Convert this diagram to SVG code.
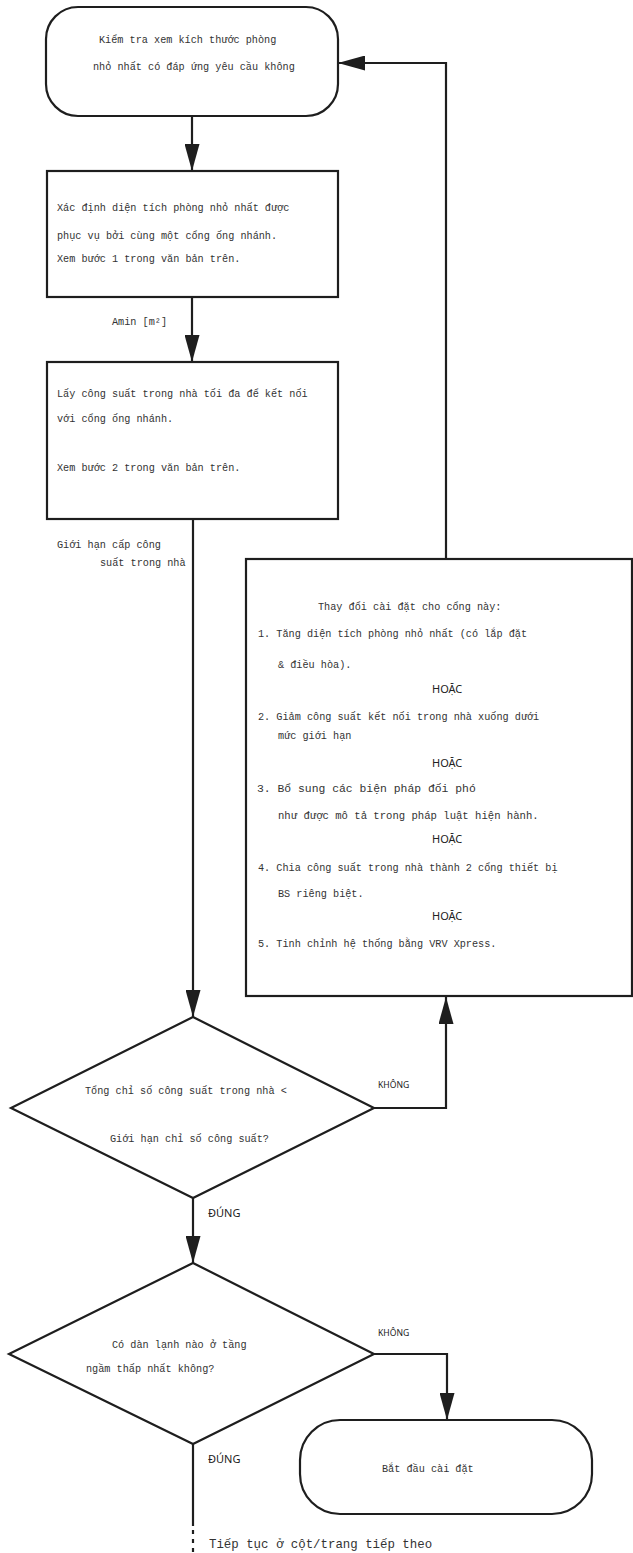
<svg xmlns="http://www.w3.org/2000/svg" width="633" height="1553" viewBox="0 0 633 1553">
<defs>
<marker id="ah" markerUnits="userSpaceOnUse" markerWidth="27" markerHeight="15" refX="27" refY="7.5" orient="auto">
<path d="M0,0 L27,7.5 L0,15 z" fill="#1e1e1e"/>
</marker>
<style>
.sh{fill:#fff;stroke:#1e1e1e;stroke-width:2.2}
.cn{fill:none;stroke:#1e1e1e;stroke-width:2.2}
.m{font-family:"Liberation Mono","DejaVu Sans Mono",monospace;font-size:10.2px;fill:#333}
.s{font-family:"Noto Sans","DejaVu Sans",sans-serif;fill:#222}
.lbl{font-size:8.6px}
.or{font-size:11px}
</style>
</defs>
<rect width="633" height="1553" fill="#fff"/>
<g id="connectors">
<path class="cn" d="M192,116 V171" marker-end="url(#ah)"/>
<path class="cn" d="M192,297 V362" marker-end="url(#ah)"/>
<path class="cn" d="M193,519 V1017" marker-end="url(#ah)"/>
<path class="cn" d="M374,1108 H446 V997" marker-end="url(#ah)"/>
<path class="cn" d="M446,559 V63 H338" marker-end="url(#ah)"/>
<path class="cn" d="M193,1198 V1263" marker-end="url(#ah)"/>
<path class="cn" d="M374,1354 H447 V1420" marker-end="url(#ah)"/>
<path class="cn" d="M193,1444 V1526"/>
<path class="cn" d="M193,1530 V1553" stroke-dasharray="4,5"/>
<text class="m" x="112" y="325">Amin [m²]</text>
<text class="m" x="57" y="548">Giới hạn cấp công</text>
<text class="m" x="100" y="566">suất trong nhà</text>
<text class="s lbl" x="378" y="1088">KHÔNG</text>
<text class="s or" x="208" y="1217">ĐÚNG</text>
<text class="s lbl" x="378" y="1336">KHÔNG</text>
<text class="s or" x="208" y="1463">ĐÚNG</text>
<text class="m" x="209" y="1548" style="font-size:12.4px">Tiếp tục ở cột/trang tiếp theo</text>
</g>
<g id="n-start">
<rect class="sh" x="46" y="7" width="292" height="109" rx="32" ry="32"/>
<text class="m" x="99" y="43">Kiểm tra xem kích thước phòng</text>
<text class="m" x="93" y="70">nhỏ nhất có đáp ứng yêu cầu không</text>
</g>
<g id="n-area">
<rect class="sh" x="47" y="171" width="291" height="126"/>
<text class="m" x="57" y="211">Xác định diện tích phòng nhỏ nhất được</text>
<text class="m" x="57" y="239">phục vụ bởi cùng một cổng ống nhánh.</text>
<text class="m" x="57" y="262">Xem bước 1 trong văn bản trên.</text>
</g>
<g id="n-capacity">
<rect class="sh" x="47" y="362" width="291" height="157"/>
<text class="m" x="57" y="397">Lấy công suất trong nhà tối đa để kết nối</text>
<text class="m" x="57" y="422">với cổng ống nhánh.</text>
<text class="m" x="57" y="471">Xem bước 2 trong văn bản trên.</text>
</g>
<g id="n-change">
<rect class="sh" x="246" y="559" width="386" height="437"/>
<text class="m" x="318" y="610">Thay đổi cài đặt cho cổng này:</text>
<text class="m" x="258" y="637">1. Tăng diện tích phòng nhỏ nhất (có lắp đặt</text>
<text class="m" x="278" y="668">&amp; điều hòa).</text>
<text class="s or" x="432" y="693">HOẶC</text>
<text class="m" x="258" y="720">2. Giảm công suất kết nối trong nhà xuống dưới</text>
<text class="m" x="278" y="739">mức giới hạn</text>
<text class="s or" x="432" y="767">HOẶC</text>
<text class="m" x="257" y="792" style="font-size:11.4px">3. Bổ sung các biện pháp đối phó</text>
<text class="m" x="278" y="819" style="font-size:10.6px">như được mô tả trong pháp luật hiện hành.</text>
<text class="s or" x="432" y="843">HOẶC</text>
<text class="m" x="258" y="871">4. Chia công suất trong nhà thành 2 cổng thiết bị</text>
<text class="m" x="278" y="897">BS riêng biệt.</text>
<text class="s or" x="432" y="920">HOẶC</text>
<text class="m" x="258" y="947">5. Tinh chỉnh hệ thống bằng VRV Xpress.</text>
</g>
<g id="n-check-total">
<polygon class="sh" points="193,1017 374,1108 193,1198 11,1108"/>
<text class="m" x="85" y="1094">Tổng chỉ số công suất trong nhà &lt;</text>
<text class="m" x="110" y="1142">Giới hạn chỉ số công suất?</text>
</g>
<g id="n-check-basement">
<polygon class="sh" points="193,1263 374,1354 193,1444 9,1354"/>
<text class="m" x="112" y="1348">Có dàn lạnh nào ở tầng</text>
<text class="m" x="86" y="1372">ngầm thấp nhất không?</text>
</g>
<g id="n-install">
<rect class="sh" x="300" y="1420" width="292" height="94" rx="40" ry="40"/>
<text class="m" x="382" y="1472">Bắt đầu cài đặt</text>
</g>
</svg>
